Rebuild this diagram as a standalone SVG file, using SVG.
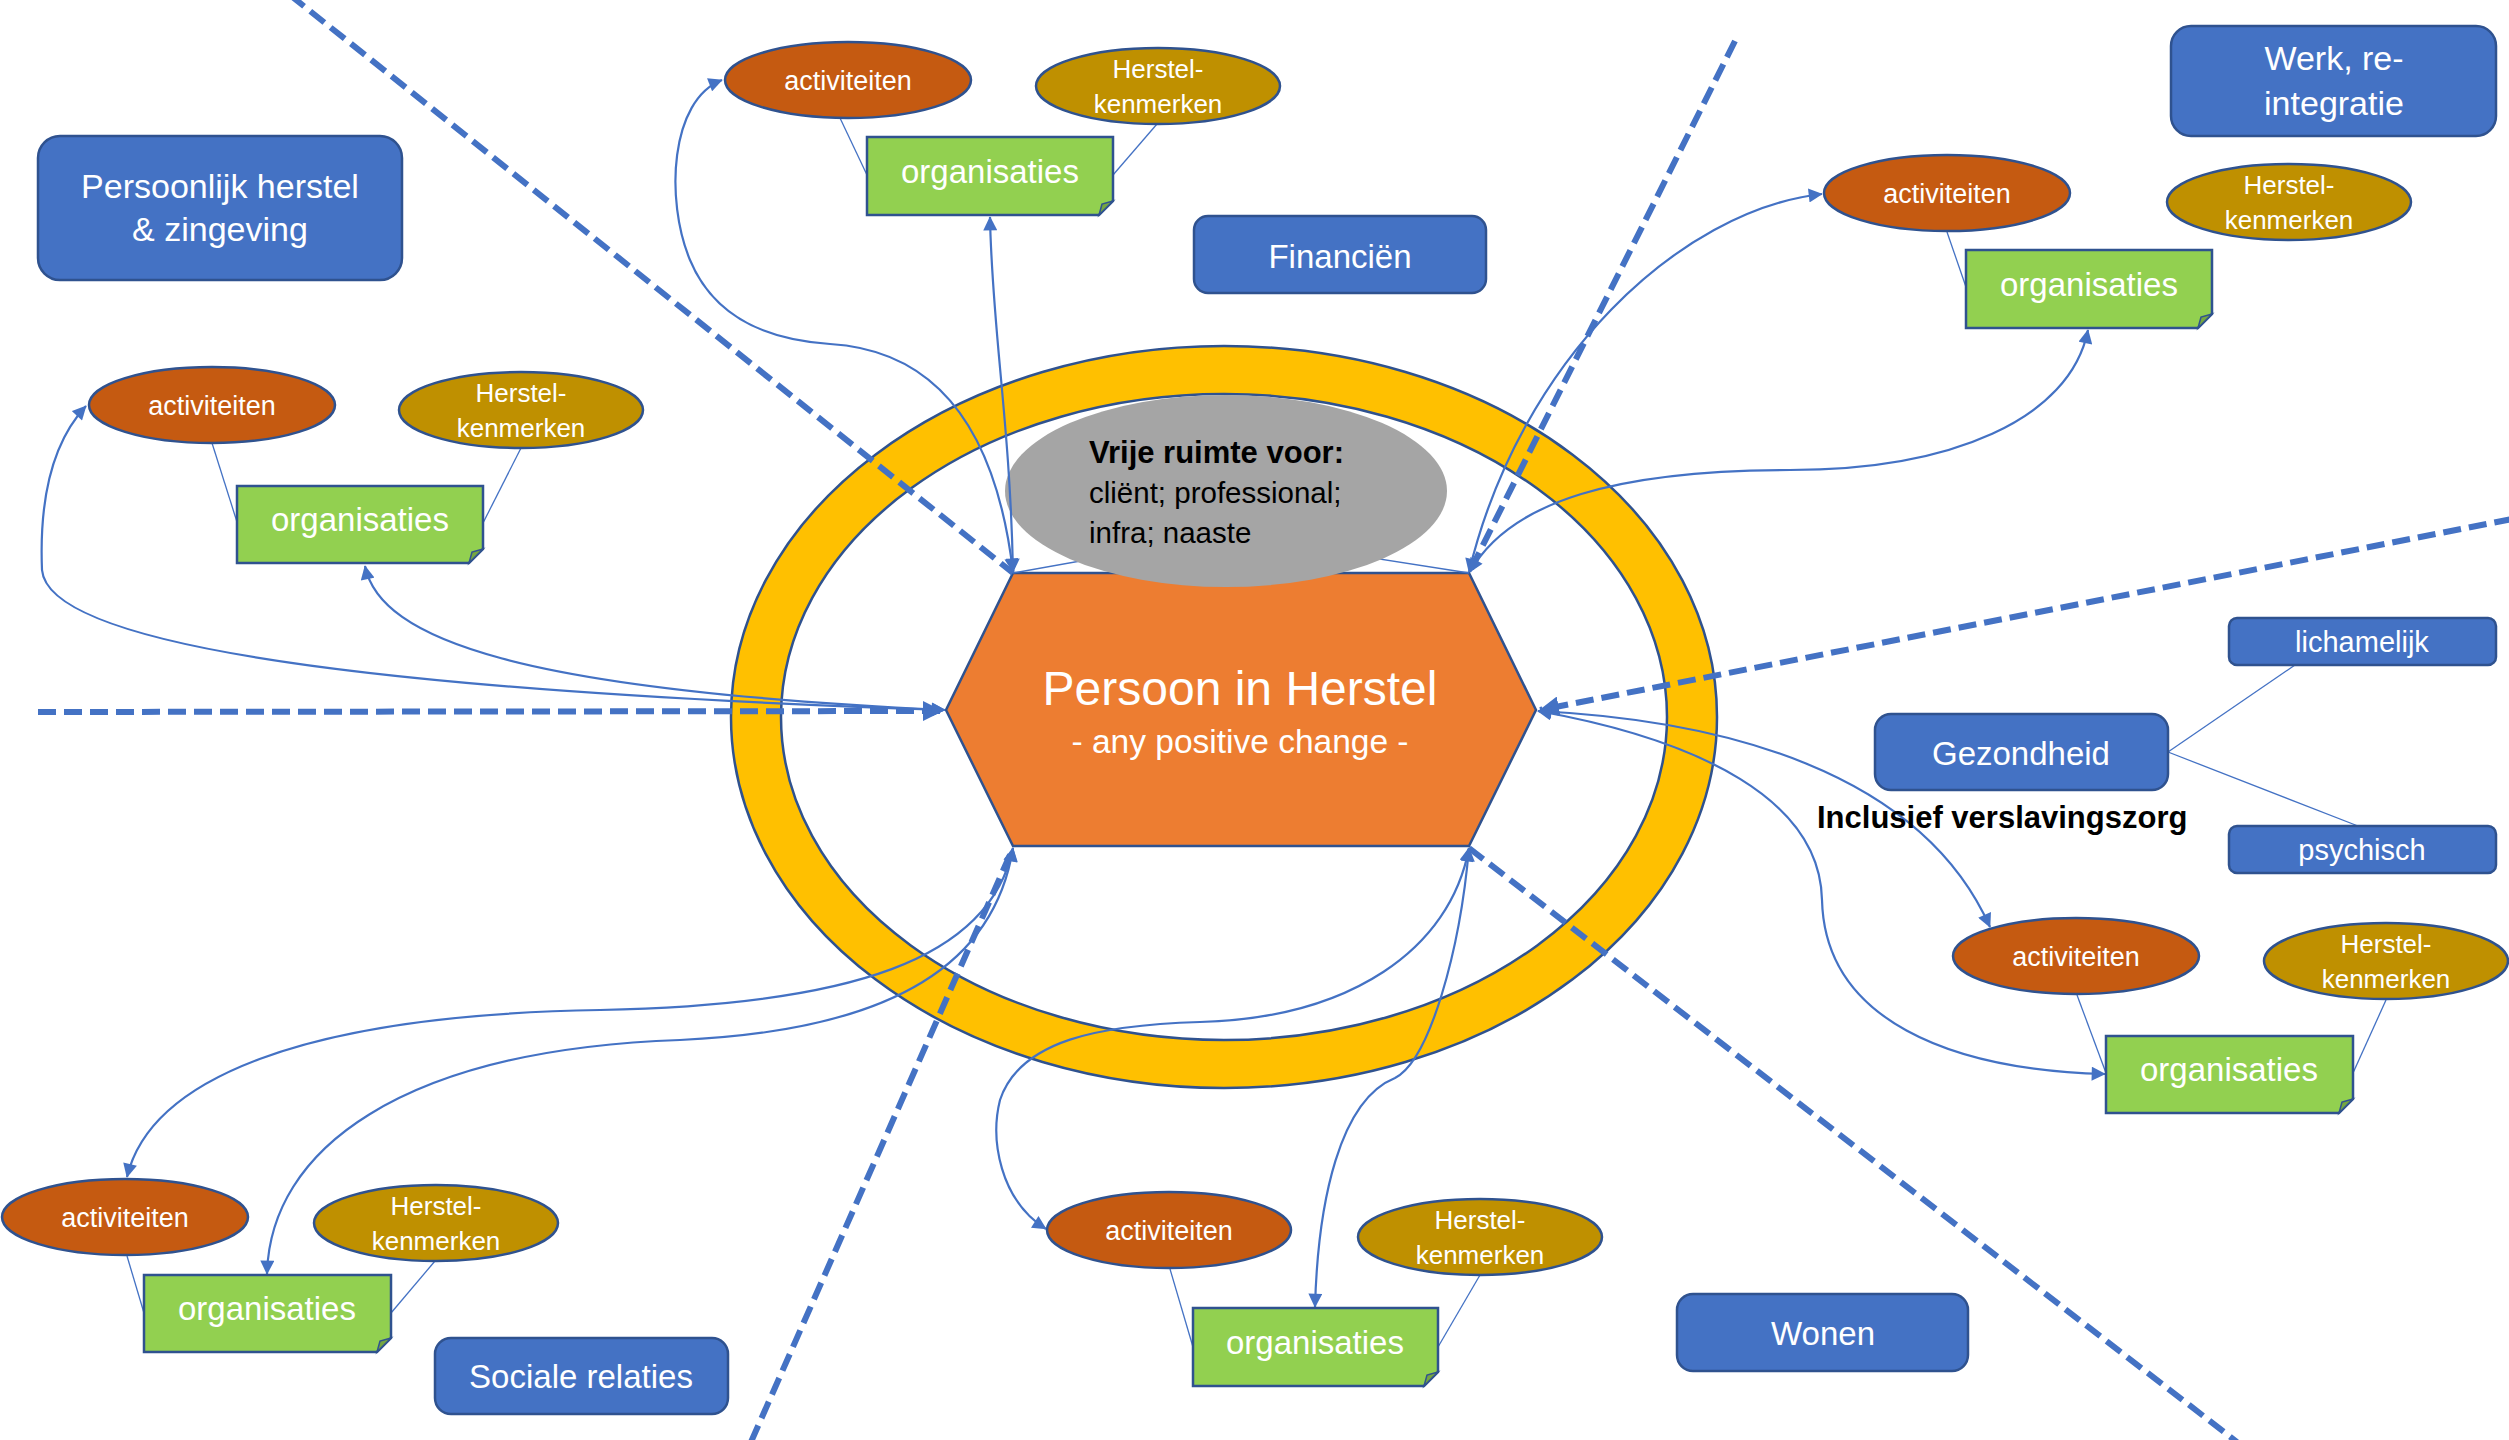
<svg xmlns="http://www.w3.org/2000/svg" width="2509" height="1440" viewBox="0 0 2509 1440">
<style>
text{font-family:'Liberation Sans',Arial,sans-serif;fill:#fff;text-anchor:middle}
.box{fill:#4472C4;stroke:#2F528F;stroke-width:2.5}
.act{fill:#C55A11;stroke:#2F528F;stroke-width:2.5}
.her{fill:#BF9000;stroke:#2F528F;stroke-width:2.5}
.org{fill:#92D050;stroke:#2F528F;stroke-width:2.5}
.fold{fill:#75A640;stroke:#2F528F;stroke-width:1.5}
.call{stroke:#4472C4;stroke-width:1.3;fill:none}
.con{stroke:#4472C4;stroke-width:2.2;fill:none;marker-start:url(#ah);marker-end:url(#ah)}
.dash{stroke:#4472C4;stroke-width:6;fill:none;stroke-dasharray:18 8}
.t34{font-size:34px}.t33{font-size:33px}.t27{font-size:27px}.t26{font-size:26px}.t29{font-size:29px}
</style>
<defs>
<marker id="ah" viewBox="0 0 10 10" refX="9.5" refY="5" markerWidth="15" markerHeight="14" markerUnits="userSpaceOnUse" orient="auto-start-reverse"><path d="M0,0 L10,5 L0,10 z" fill="#4472C4"/></marker>
<marker id="dah" viewBox="0 0 10 10" refX="9.5" refY="5" markerWidth="20" markerHeight="20" markerUnits="userSpaceOnUse" orient="auto"><path d="M0,0 L10,5 L0,10 z" fill="#4472C4"/></marker>
</defs>
<rect width="2509" height="1440" fill="#fff"/>

<g id="ring">
<ellipse cx="1224" cy="717" rx="493" ry="371" fill="#FFC000" stroke="#2F528F" stroke-width="2.5"/>
<ellipse cx="1224" cy="717" rx="443" ry="323" fill="#fff" stroke="#2F528F" stroke-width="2.5"/>
</g>

<g id="persoon">
<polygon points="1013,573 1469,573 1536,710 1469,846 1013,846 946,710" fill="#ED7D31" stroke="#2F528F" stroke-width="2.5"/>
<text x="1240" y="705" style="font-size:48px">Persoon in Herstel</text>
<text x="1240" y="753" style="font-size:33.5px">- any positive change -</text>
</g>

<g id="vrije-ruimte">
<line class="call" x1="1013" y1="573" x2="1226" y2="535"/>
<line class="call" x1="1469" y1="573" x2="1226" y2="535"/>
<ellipse cx="1226" cy="491" rx="221" ry="96" fill="#A5A5A5"/>
<text x="1089" y="463" style="fill:#000;text-anchor:start;font-size:31px;font-weight:bold">Vrije ruimte voor:</text>
<text x="1089" y="503" style="fill:#000;text-anchor:start;font-size:29.5px">cliënt; professional;</text>
<text x="1089" y="543" style="fill:#000;text-anchor:start;font-size:29.5px">infra; naaste</text>
</g>

<g id="dashed-lines">
<path class="dash" d="M290,-5 L1013,573"/>
<path class="dash" d="M38,712 L942,711" marker-end="url(#dah)"/>
<path class="dash" d="M1735,41 L1469,573"/>
<path class="dash" d="M2512,519 L1540,710" marker-end="url(#dah)"/>
<path class="dash" d="M1469,848 L2237,1442"/>
<path class="dash" d="M751,1442 L1013,848"/>
</g>

<g id="connectors">
<path class="con" d="M1013,572 C995,420 930,350 830,344 C770,340 715,320 690,260 C665,200 670,100 722,80"/>
<path class="con" d="M1013,572 C1010,420 992,330 990,217"/>
<path class="con" d="M1469,572 C1520,360 1680,210 1822,194"/>
<path class="con" d="M1470,572 C1510,500 1620,470 1790,470 C1950,470 2070,420 2088,330"/>
<path class="con" d="M945,710 C500,695 50,660 42,570 C40,520 45,450 86,406"/>
<path class="con" d="M945,710 C520,690 380,640 365,566"/>
<path class="con" d="M1538,711 C1720,720 1920,770 1990,927"/>
<path class="con" d="M1538,711 C1700,740 1820,800 1822,900 C1825,1020 1950,1070 2105,1074"/>
<path class="con" d="M1013,848 C990,960 850,1005 600,1010 C300,1015 150,1080 127,1177"/>
<path class="con" d="M1013,848 C995,960 900,1030 680,1040 C400,1050 270,1150 267,1274"/>
<path class="con" d="M1469,848 C1450,950 1350,1018 1200,1022 C1100,1025 1020,1040 1000,1100 C990,1140 1000,1200 1046,1229"/>
<path class="con" d="M1469,848 C1460,950 1430,1060 1395,1078 C1340,1100 1318,1200 1315,1307"/>
</g>

<g id="cluster-a">
<line class="call" x1="840" y1="118" x2="867" y2="175"/>
<line class="call" x1="1157" y1="124" x2="1113" y2="175"/>
<g id="act-a"><ellipse class="act" cx="848" cy="80" rx="123" ry="38"/><text class="t27" x="848" y="90">activiteiten</text></g>
<g id="her-a"><ellipse class="her" cx="1158" cy="86" rx="122" ry="38"/><text class="t26" x="1158" y="78">Herstel-</text><text class="t26" x="1158" y="113">kenmerken</text></g>
<g id="org-a"><polygon class="org" points="867,137 1113,137 1113,201 1099,215 867,215"/><polygon class="fold" points="1113,201 1099,215 1102,204"/><text class="t33" x="990" y="183">organisaties</text></g>
</g>

<g id="cluster-b">
<line class="call" x1="212" y1="443" x2="237" y2="522"/>
<line class="call" x1="521" y1="448" x2="483" y2="523"/>
<g id="act-b"><ellipse class="act" cx="212" cy="405" rx="123" ry="38"/><text class="t27" x="212" y="415">activiteiten</text></g>
<g id="her-b"><ellipse class="her" cx="521" cy="410" rx="122" ry="38"/><text class="t26" x="521" y="402">Herstel-</text><text class="t26" x="521" y="437">kenmerken</text></g>
<g id="org-b"><polygon class="org" points="237,486 483,486 483,549 469,563 237,563"/><polygon class="fold" points="483,549 469,563 472,552"/><text class="t33" x="360" y="531">organisaties</text></g>
</g>

<g id="cluster-c">
<line class="call" x1="1947" y1="232" x2="1966" y2="287"/>
<g id="act-c"><ellipse class="act" cx="1947" cy="193" rx="123" ry="38"/><text class="t27" x="1947" y="203">activiteiten</text></g>
<g id="her-c"><ellipse class="her" cx="2289" cy="202" rx="122" ry="38"/><text class="t26" x="2289" y="194">Herstel-</text><text class="t26" x="2289" y="229">kenmerken</text></g>
<g id="org-c"><polygon class="org" points="1966,250 2212,250 2212,314 2198,328 1966,328"/><polygon class="fold" points="2212,314 2198,328 2201,317"/><text class="t33" x="2089" y="296">organisaties</text></g>
</g>

<g id="cluster-d">
<line class="call" x1="2077" y1="995" x2="2106" y2="1073"/>
<line class="call" x1="2386" y1="1000" x2="2353" y2="1073"/>
<g id="act-d"><ellipse class="act" cx="2076" cy="956" rx="123" ry="38"/><text class="t27" x="2076" y="966">activiteiten</text></g>
<g id="her-d"><ellipse class="her" cx="2386" cy="961" rx="122" ry="38"/><text class="t26" x="2386" y="953">Herstel-</text><text class="t26" x="2386" y="988">kenmerken</text></g>
<g id="org-d"><polygon class="org" points="2106,1036 2353,1036 2353,1099 2339,1113 2106,1113"/><polygon class="fold" points="2353,1099 2339,1113 2342,1102"/><text class="t33" x="2229" y="1081">organisaties</text></g>
</g>

<g id="cluster-e">
<line class="call" x1="127" y1="1256" x2="144" y2="1313"/>
<line class="call" x1="435" y1="1261" x2="391" y2="1313"/>
<g id="act-e"><ellipse class="act" cx="125" cy="1217" rx="123" ry="38"/><text class="t27" x="125" y="1227">activiteiten</text></g>
<g id="her-e"><ellipse class="her" cx="436" cy="1223" rx="122" ry="38"/><text class="t26" x="436" y="1215">Herstel-</text><text class="t26" x="436" y="1250">kenmerken</text></g>
<g id="org-e"><polygon class="org" points="144,1275 391,1275 391,1338 377,1352 144,1352"/><polygon class="fold" points="391,1338 377,1352 380,1341"/><text class="t33" x="267" y="1320">organisaties</text></g>
</g>

<g id="cluster-f">
<line class="call" x1="1170" y1="1269" x2="1193" y2="1347"/>
<line class="call" x1="1480" y1="1275" x2="1438" y2="1347"/>
<g id="act-f"><ellipse class="act" cx="1169" cy="1230" rx="122" ry="38"/><text class="t27" x="1169" y="1240">activiteiten</text></g>
<g id="her-f"><ellipse class="her" cx="1480" cy="1237" rx="122" ry="38"/><text class="t26" x="1480" y="1229">Herstel-</text><text class="t26" x="1480" y="1264">kenmerken</text></g>
<g id="org-f"><polygon class="org" points="1193,1308 1438,1308 1438,1372 1424,1386 1193,1386"/><polygon class="fold" points="1438,1372 1424,1386 1427,1375"/><text class="t33" x="1315" y="1354">organisaties</text></g>
</g>

<g id="persoonlijk-herstel"><rect class="box" x="38" y="136" width="364" height="144" rx="22"/><text class="t34" x="220" y="198">Persoonlijk herstel</text><text class="t34" x="220" y="241">&amp; zingeving</text></g>
<g id="financien"><rect class="box" x="1194" y="216" width="292" height="77" rx="14"/><text class="t33" x="1340" y="268">Financiën</text></g>
<g id="werk"><rect class="box" x="2171" y="26" width="325" height="110" rx="20"/><text class="t34" x="2334" y="70">Werk, re-</text><text class="t34" x="2334" y="115">integratie</text></g>
<g id="gezondheid">
<line class="call" x1="2168" y1="752" x2="2295" y2="665"/>
<line class="call" x1="2168" y1="752" x2="2358" y2="826"/>
<rect class="box" x="1875" y="714" width="293" height="76" rx="16"/><text class="t33" x="2021" y="765">Gezondheid</text>
<text x="1817" y="828" style="fill:#000;text-anchor:start;font-size:31px;font-weight:bold">Inclusief verslavingszorg</text>
</g>
<g id="lichamelijk"><rect class="box" x="2229" y="618" width="267" height="47" rx="8"/><text class="t29" x="2362" y="652">lichamelijk</text></g>
<g id="psychisch"><rect class="box" x="2229" y="826" width="267" height="47" rx="8"/><text class="t29" x="2362" y="860">psychisch</text></g>
<g id="sociale-relaties"><rect class="box" x="435" y="1338" width="293" height="76" rx="16"/><text class="t33" x="581" y="1388">Sociale relaties</text></g>
<g id="wonen"><rect class="box" x="1677" y="1294" width="291" height="77" rx="16"/><text class="t33" x="1823" y="1345">Wonen</text></g>
</svg>
